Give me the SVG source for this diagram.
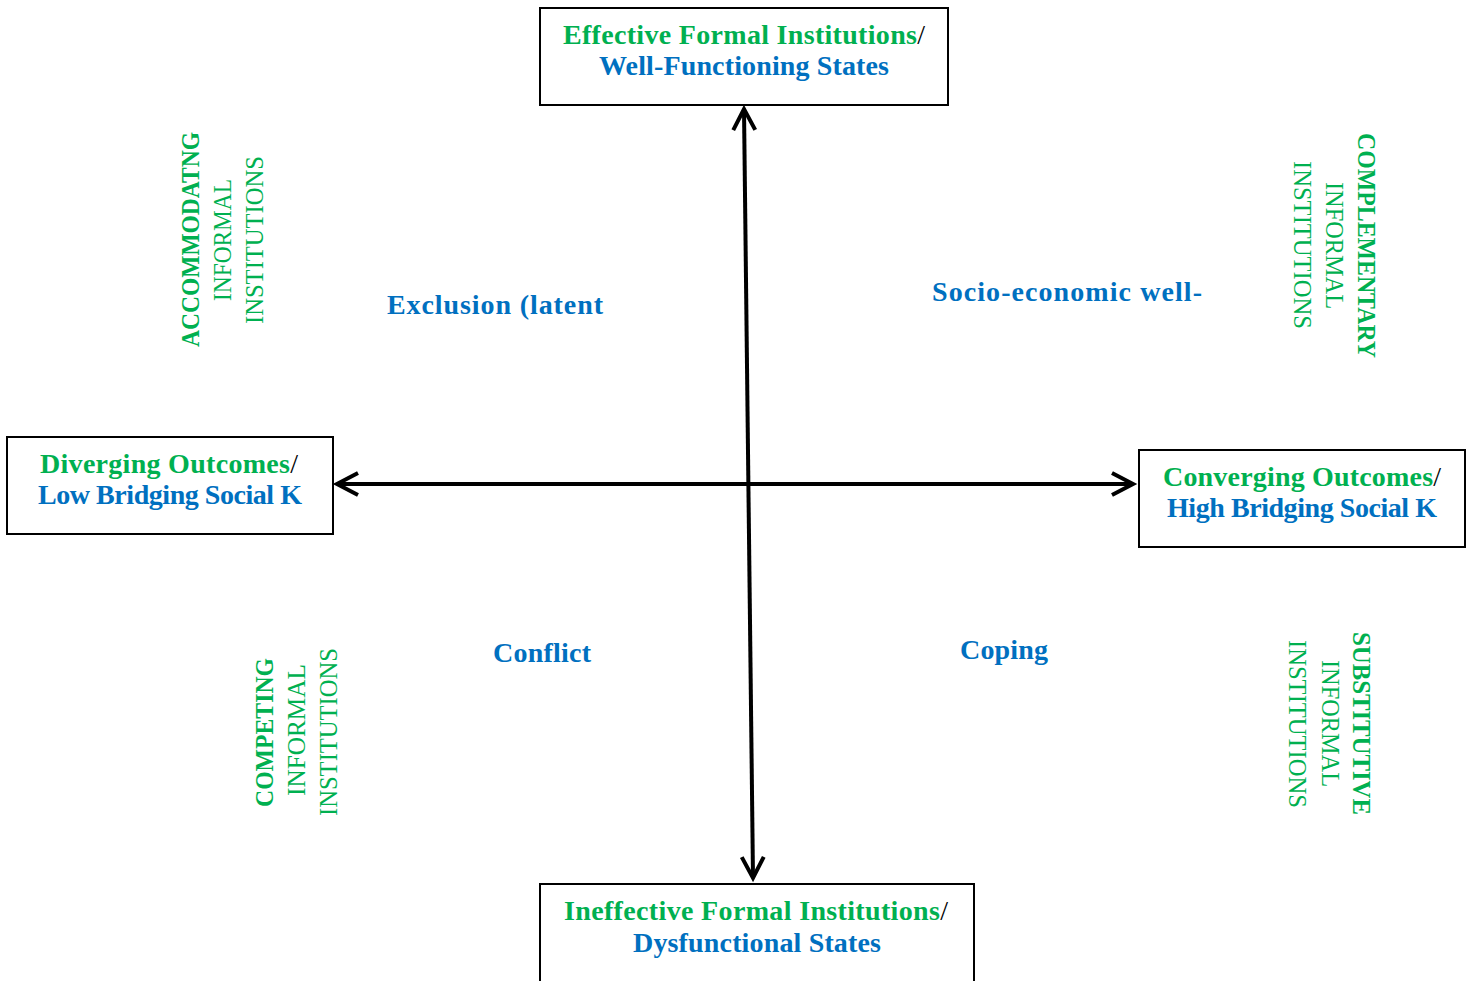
<svg xmlns="http://www.w3.org/2000/svg" width="1472" height="981" viewBox="0 0 1472 981">
<style>
text{font-family:"Liberation Serif","DejaVu Serif",serif;font-size:28px}
.v{font-size:26px}
.b{font-weight:bold}
.g{fill:#00B050}
.bl{fill:#0070C0}
.k{fill:#000000;font-weight:normal}
.box{fill:#ffffff;stroke:#000000;stroke-width:2}
.ax{stroke:#000000;stroke-width:4;fill:none}
</style>
<defs>
<marker id="arr" markerUnits="userSpaceOnUse" markerWidth="40" markerHeight="40" viewBox="-30 -20 40 40" refX="0" refY="0" orient="auto-start-reverse">
<path d="M-21,-11 L0,0 L-21,11" fill="none" stroke="#000" stroke-width="4" stroke-linejoin="miter"/>
</marker>
</defs>
<g id="connectors">
<line class="ax" x1="744" y1="109" x2="753" y2="878" marker-start="url(#arr)" marker-end="url(#arr)"/>
<line class="ax" x1="337" y1="484" x2="1133" y2="484" marker-start="url(#arr)" marker-end="url(#arr)"/>
</g>
<g id="top">
<rect class="box" x="540" y="8" width="408" height="97"/>
<text x="563" y="44" textLength="362" lengthAdjust="spacing" class="b"><tspan class="g">Effective Formal Institutions</tspan><tspan class="k">/</tspan></text>
<text x="599" y="75" textLength="290" lengthAdjust="spacing" class="b bl">Well-Functioning States</text>
</g>
<g id="left">
<rect class="box" x="7" y="437" width="326" height="97"/>
<text x="40" y="473" textLength="258" lengthAdjust="spacing" class="b"><tspan class="g">Diverging Outcomes</tspan><tspan class="k">/</tspan></text>
<text x="38" y="504" textLength="264" lengthAdjust="spacing" class="b bl">Low Bridging Social K</text>
</g>
<g id="right">
<rect class="box" x="1139" y="450" width="326" height="97"/>
<text x="1163" y="486" textLength="278" lengthAdjust="spacing" class="b"><tspan class="g">Converging Outcomes</tspan><tspan class="k">/</tspan></text>
<text x="1167" y="517" textLength="270" lengthAdjust="spacing" class="b bl">High Bridging Social K</text>
</g>
<g id="bottom">
<rect class="box" x="540" y="884" width="434" height="110"/>
<text x="564" y="920" textLength="384" lengthAdjust="spacing" class="b"><tspan class="g">Ineffective Formal Institutions</tspan><tspan class="k">/</tspan></text>
<text x="633" y="952" textLength="248" lengthAdjust="spacing" class="b bl">Dysfunctional States</text>
</g>
<g id="quadrant-labels">
<text x="387" y="314" textLength="216" lengthAdjust="spacing" class="b bl">Exclusion (latent</text>
<text x="932" y="301" textLength="270" lengthAdjust="spacing" class="b bl">Socio-economic well-</text>
<text x="493" y="662" textLength="98" lengthAdjust="spacing" class="b bl">Conflict</text>
<text x="960" y="659" textLength="88" lengthAdjust="spacing" class="b bl">Coping</text>
</g>
<g id="accommodating">
<g transform="translate(0,240) rotate(-90)">
<text x="-107" y="199" textLength="215" lengthAdjust="spacingAndGlyphs" class="v b g">ACCOMMODATNG</text>
<text x="-61" y="231" textLength="122" lengthAdjust="spacingAndGlyphs" class="v g">INFORMAL</text>
<text x="-84" y="263" textLength="168" lengthAdjust="spacingAndGlyphs" class="v g">INSTITUTIONS</text>
</g>
</g>
<g id="complementary">
<g transform="translate(0,245) rotate(90)">
<text x="-112" y="-1358" textLength="225" lengthAdjust="spacingAndGlyphs" class="v b g">COMPLEMENTARY</text>
<text x="-63" y="-1326" textLength="127" lengthAdjust="spacingAndGlyphs" class="v g">INFORMAL</text>
<text x="-84" y="-1294" textLength="168" lengthAdjust="spacingAndGlyphs" class="v g">INSTITUTIONS</text>
</g>
</g>
<g id="competing">
<g transform="translate(0,732) rotate(-90)">
<text x="-75" y="273" textLength="149" lengthAdjust="spacingAndGlyphs" class="v b g">COMPETING</text>
<text x="-64" y="305" textLength="132" lengthAdjust="spacingAndGlyphs" class="v g">INFORMAL</text>
<text x="-84" y="337" textLength="168" lengthAdjust="spacingAndGlyphs" class="v g">INSTITUTIONS</text>
</g>
</g>
<g id="substitutive">
<g transform="translate(0,724) rotate(90)">
<text x="-92" y="-1353" textLength="183" lengthAdjust="spacingAndGlyphs" class="v b g">SUBSTITUTIVE</text>
<text x="-64" y="-1322" textLength="127" lengthAdjust="spacingAndGlyphs" class="v g">INFORMAL</text>
<text x="-84" y="-1289" textLength="168" lengthAdjust="spacingAndGlyphs" class="v g">INSTITUTIONS</text>
</g>
</g>
</svg>
